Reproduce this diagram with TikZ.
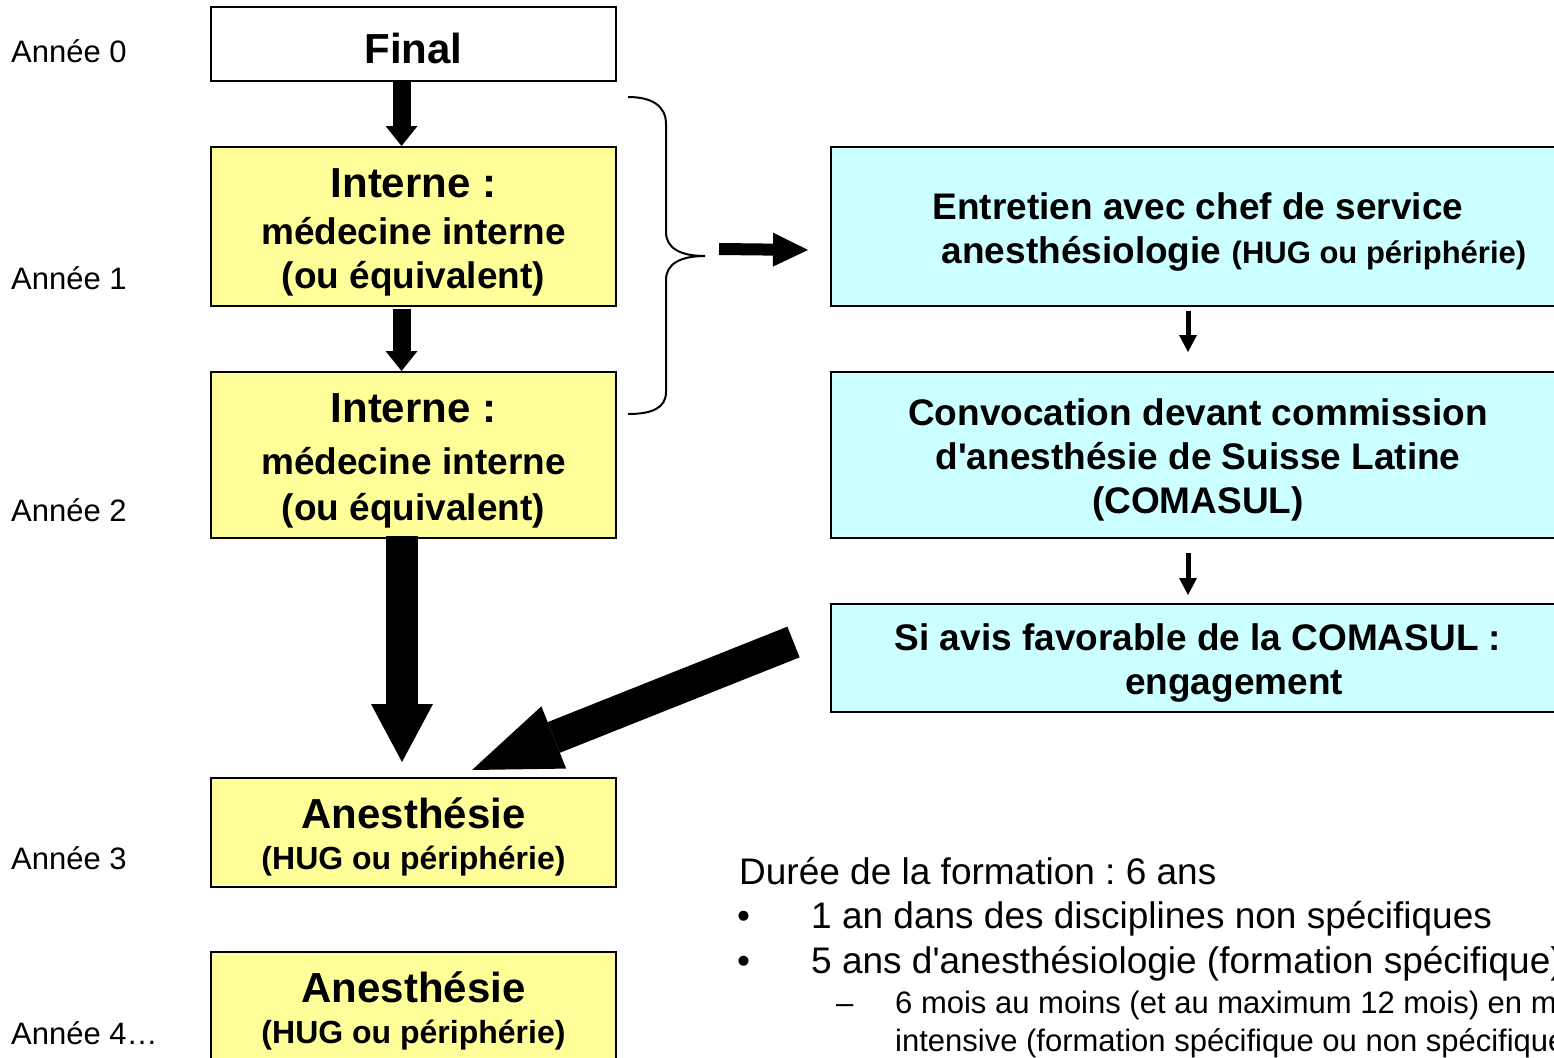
\documentclass[tikz,border=0pt]{standalone}
\usepackage{fontspec}
\setmainfont{Liberation Sans}[Ligatures=TeXOff]
\usepackage{tikz}
\usetikzlibrary{arrows.meta}
\frenchspacing
\definecolor{boxyellow}{HTML}{FFFF99}
\definecolor{boxcyan}{HTML}{CCFFFF}
\newcommand{\boxtitle}{\fontsize{42}{48}\selectfont\rule{0pt}{40pt}}
\newcommand{\boxsub}{\fontsize{32}{38}\selectfont}
\newcommand{\topline}{\rule{0pt}{37pt}}
\tikzset{
    plain-box/.style = {draw, line width=2pt, fill=white, minimum width=405pt, inner sep=0pt, align=center, font=\fontsize{37}{44}\selectfont\bfseries},
    year-box/.style = {plain-box, fill=boxyellow},
    step-box/.style = {draw, line width=2pt, fill=boxcyan, minimum width=734pt, inner sep=0pt, align=center, font=\fontsize{37}{44}\selectfont\bfseries},
    year-label/.style = {anchor=base west, inner sep=0pt, font=\fontsize{31}{36}\selectfont},
    info-text/.style = {anchor=base west, inner sep=0pt, font=\fontsize{37}{44}\selectfont},
    info-small/.style = {anchor=base west, inner sep=0pt, font=\fontsize{31}{36}\selectfont},
    fat-arrow/.style n args = {3}{line width=#1, -{Triangle[length=#2, width=#3, line width=0pt]}},
}

\begin{document}
\begin{tikzpicture}[x=1pt, y=-1pt]
\useasboundingbox (0,0) rectangle (1554,1057);
\clip (0,0) rectangle (1554,1057);

% years
\node[year-label] (year0) at (11,63) {Année 0};
\node[year-label] (year1) at (11,289) {Année 1};
\node[year-label] (year2) at (11,521) {Année 2};
\node[year-label] (year3) at (11,869) {Année 3};
\node[year-label] (year4) at (11,1044) {Année 4…};

% left column
\node[plain-box, minimum height=74pt] (final) at (413.5,44) {\boxtitle Final};
\node[year-box, minimum height=159pt] (interneA) at (413.5,226.5) {{\boxtitle Interne :}\\[3pt]médecine interne\\(ou équivalent)};
\node[year-box, minimum height=166pt] (interneB) at (413.5,455) {{\boxtitle Interne :}\\[8pt]médecine interne\\[2pt](ou équivalent)};
\node[year-box, minimum height=109pt, font=\boxsub\bfseries] (anesthA) at (413.5,832.5) {{\boxtitle Anesthésie}\\[3pt](HUG ou périphérie)};
\node[year-box, minimum height=109pt, font=\boxsub\bfseries] (anesthB) at (413.5,1006.5) {{\boxtitle Anesthésie}\\[3pt](HUG ou périphérie)};

% right column
\node[step-box, minimum height=159pt] (entretien) at (1198,226.5) {\topline Entretien avec chef de service\\\hspace*{72pt}anesthésiologie {\fontsize{31}{44}\selectfont(HUG ou périphérie)}};
\node[step-box, minimum height=166pt] (convocation) at (1198,455) {\topline Convocation devant commission\\d'anesthésie de Suisse Latine\\(COMASUL)};
\node[step-box, minimum height=108pt] (comasul) at (1198,658) {\topline Si avis favorable de la COMASUL :\\\hspace*{72pt}engagement};

% arrows
\draw[fat-arrow={18pt}{20pt}{32pt}] ([xshift=-12pt]final.south) -- ([xshift=-12pt]interneA.north);
\draw[fat-arrow={18pt}{20pt}{32pt}] ([xshift=-12pt,yshift=-2pt]interneA.south) -- ([xshift=-12pt]interneB.north);
\draw[fat-arrow={32pt}{58pt}{62pt}] ([xshift=-11.5pt,yshift=3pt]interneB.south) -- ([xshift=-11.5pt,yshift=15pt]anesthA.north);
\draw[fat-arrow={33pt}{88pt}{67pt}] ([xshift=-36.5pt,yshift=16pt]comasul.west) -- ([xshift=58.5pt,yshift=7pt]anesthA.north);
\draw[fat-arrow={5pt}{17pt}{18pt}] ([xshift=-10pt,yshift=-4pt]entretien.south) -- ([xshift=-10pt,yshift=19pt]convocation.north);
\draw[fat-arrow={5pt}{17pt}{18pt}] ([xshift=-10pt,yshift=-14pt]convocation.south) -- ([xshift=-10pt,yshift=8pt]comasul.north);

% brace
\draw[line width=2pt] (628,97) .. controls (652,97) and (666,106) .. (666,124) -- (666,232)
    .. controls (666,248) and (680,256) .. (705,256)
    .. controls (680,256) and (666,264) .. (666,280) -- (666,392)
    .. controls (666,408) and (652,414) .. (628,414);
\coordinate (braceTip) at (719,249);
\draw[fat-arrow={12pt}{35pt}{34pt}] (braceTip) -- ([xshift=-22pt,yshift=-23.5pt]entretien.west);

% text
\node[info-text] (duree) at (739,884) {Durée de la formation : 6 ans};
\node[info-text] (dotA) at (737,928) {•};
\node[info-text] (itemA) at (811,928) {1 an dans des disciplines non spécifiques};
\node[info-text] (dotB) at (737,973) {•};
\node[info-text] (itemB) at (811,973) {5 ans d'anesthésiologie (formation spécifique)};
\node[info-small] (dashA) at (836,1013) {–};
\node[info-small] (subA) at (895,1013) {6 mois au moins (et au maximum 12 mois) en médecine};
\node[info-small] (subB) at (895,1051) {intensive (formation spécifique ou non spécifique)};
\end{tikzpicture}
\end{document}
